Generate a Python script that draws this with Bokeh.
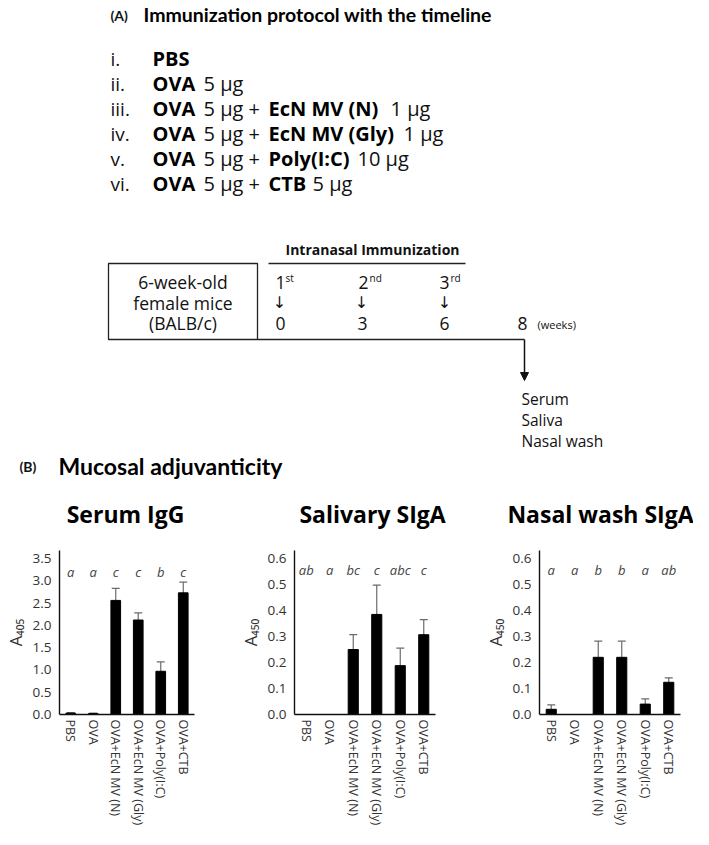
import math
from bokeh.plotting import figure
from bokeh.models import Range1d, FixedTicker, Whisker, TeeHead, ColumnDataSource, Arrow, NormalHead, NumeralTickFormatter
from bokeh.layouts import column, row
from bokeh.core.properties import value
from bokeh.embed import file_html
from bokeh.resources import INLINE

FONT = "Open Sans"
HEAD = "Lato"

# ---------------- data ----------------
groups = ["PBS", "OVA", "OVA+EcN MV (N)", "OVA+EcN MV (Gly)", "OVA+Poly(I:C)", "OVA+CTB"]

serum_igg = [0.03, 0.02, 2.56, 2.12, 0.97, 2.73]
serum_igg_err = [0.01, 0.01, 0.27, 0.16, 0.21, 0.24]
serum_letters = ["a", "a", "c", "c", "b", "c"]

saliva_siga = [0.0, 0.0, 0.25, 0.385, 0.188, 0.307]
saliva_siga_err = [0.0, 0.0, 0.057, 0.113, 0.067, 0.058]
saliva_letters = ["ab", "a", "bc", "c", "abc", "c"]

nasal_siga = [0.02, 0.0, 0.22, 0.22, 0.04, 0.124]
nasal_siga_err = [0.017, 0.0, 0.062, 0.062, 0.02, 0.017]
nasal_letters = ["a", "a", "b", "b", "a", "ab"]

serum_ticks = [0.0, 0.5, 1.0, 1.5, 2.0, 2.5, 3.0, 3.5]
siga_ticks = [0.0, 0.1, 0.2, 0.3, 0.4, 0.5, 0.6]

protocol_numerals = ["i.", "ii.", "iii.", "iv.", "v.", "vi."]
weeks = ["0", "3", "6", "8"]
samples = ["Serum", "Saliva", "Nasal wash"]

# ---------------- panel A (annotation canvas in pixel coords) ----------------
TOP_H = 540
top = figure(width=693, height=TOP_H, x_range=Range1d(0, 693), y_range=Range1d(TOP_H, 0),
             output_backend="svg", toolbar_location=None, min_border=0,
             x_axis_location=None, y_axis_location=None)
top.grid.visible = False
top.outline_line_color = None


def txt(x, y, s, size, bold=False, align="left", color="#111111", italic=False, baseline="middle", font=FONT):
    style = "bold" if bold else "normal"
    if italic:
        style = "italic"
    top.text(x=[x], y=[y], text=[s], text_font=value(font), text_font_size=f"{size}px",
             text_font_style=style, text_align=align, text_baseline=baseline, text_color=color)


# title A
txt(110, 15, "(A)", 14, bold=True, font=HEAD)
txt(143, 14, "Immunization protocol with the timeline", 19.5, bold=True, font=HEAD, color="#000000")

row_y = [58, 83, 108, 133, 158, 183]
for yy, num in zip(row_y, protocol_numerals):
    txt(110, yy, num, 19)
txt(152, row_y[0], "PBS", 20, bold=True, color="#000000")
for yy in row_y[1:]:
    txt(152, yy, "OVA", 20, bold=True, color="#000000")
txt(203, row_y[1], "5 µg", 20)
for yy in row_y[2:]:
    txt(203, yy, "5 µg +", 20)
txt(268, row_y[2], "EcN MV (N)", 20, bold=True, color="#000000")
txt(390, row_y[2], "1 µg", 20)
txt(268, row_y[3], "EcN MV (Gly)", 20, bold=True, color="#000000")
txt(403, row_y[3], "1 µg", 20)
txt(268, row_y[4], "Poly(I:C)", 20, bold=True, color="#000000")
txt(357, row_y[4], "10 µg", 20)
txt(268, row_y[5], "CTB", 20, bold=True, color="#000000")
txt(312, row_y[5], "5 µg", 20)

# timeline
BOX_T, BOX_B = 263, 339
txt(372, 249, "Intranasal Immunization", 14, bold=True, align="center")
top.segment(x0=[268], y0=[BOX_T], x1=[465], y1=[BOX_T], line_color="#222222", line_width=1.3)
top.quad(left=[108], right=[257], top=[BOX_T], bottom=[BOX_B], fill_color=None,
         line_color="#222222", line_width=1.3)
top.segment(x0=[257], y0=[BOX_B], x1=[524], y1=[BOX_B], line_color="#222222", line_width=1.3)
top.add_layout(Arrow(end=NormalHead(size=8, fill_color="#111111", line_color="#111111"),
                     x_start=524, y_start=BOX_B, x_end=524, y_end=380,
                     line_color="#111111", line_width=1.5))
for yy, s in zip([281, 302, 322], ["6-week-old", "female mice", "(BALB/c)"]):
    txt(182.5, yy, s, 17.5, align="center")

# 1st 2nd 3rd
for x0, n, sup in zip([275, 358, 439], ["1", "2", "3"], ["st", "nd", "rd"]):
    txt(x0, 282, n, 17.5)
    txt(x0 + (10 if n == "1" else 11), 277, sup, 10)
for xx in [279, 361, 444]:
    txt(xx, 302, "↓", 16, align="center", font="DejaVu Sans")
for xx, w in zip([280, 362, 444, 522], weeks):
    txt(xx, 323, w, 17.5, align="center")
txt(537, 324, "(weeks)", 11)

for yy, s in zip([398, 419, 440], samples):
    txt(521, yy, s, 15.5)

# title B
txt(19, 466, "(B)", 14, bold=True, font=HEAD)
txt(58, 465, "Mucosal adjuvanticity", 23, bold=True, font=HEAD, color="#000000")

# chart titles
for xx, s in zip([125, 372, 600], ["Serum IgG", "Salivary SIgA", "Nasal wash SIgA"]):
    txt(xx, 513, s, 23, bold=True, align="center", color="#000000")


# ---------------- panel B bar charts ----------------
def bar_chart(vals, errs, letters, ticks, ymax, letter_y, ylabel, width, bl, br):
    p = figure(x_range=groups, y_range=Range1d(0, ymax), width=width, height=829 - TOP_H,
               min_border_left=bl, min_border_right=br, min_border_top=550 - TOP_H,
               min_border_bottom=115, output_backend="svg", toolbar_location=None)
    p.grid.visible = False
    p.outline_line_color = None
    p.vbar(x=groups, top=vals, width=0.43, fill_color="black", line_color="black")
    idx = [i for i, e in enumerate(errs) if e > 0]
    src = ColumnDataSource(dict(x=[groups[i] for i in idx],
                                up=[vals[i] + errs[i] for i in idx],
                                lo=[vals[i] - errs[i] for i in idx]))
    p.add_layout(Whisker(source=src, base="x", upper="up", lower="lo", line_color="#6b6b6b",
                         line_width=1.2,
                         upper_head=TeeHead(size=8, line_color="#6b6b6b", line_width=1.2),
                         lower_head=TeeHead(size=8, line_color="#6b6b6b", line_width=1.2)))
    p.text(x=groups, y=[letter_y] * len(groups), text=letters, text_font=value(FONT),
           text_font_size="13px", text_font_style="italic", text_align="center",
           text_baseline="middle", text_color="#444444")
    p.yaxis.ticker = FixedTicker(ticks=ticks)
    p.yaxis.formatter = NumeralTickFormatter(format="0.0")
    for ax in (p.xaxis, p.yaxis):
        ax.axis_line_color = "#111111"
        ax.axis_line_width = 1.4
        ax.major_tick_line_color = None
        ax.minor_tick_line_color = None
        ax.major_tick_out = 0
        ax.major_label_text_font = FONT
        ax.major_label_text_font_size = "13.5px"
        ax.major_label_text_color = "#333333"
    p.xaxis.major_label_text_font_size = "12.5px"
    p.yaxis.major_label_standoff = 8
    p.xaxis.major_label_standoff = 5
    p.xaxis.major_label_orientation = -math.pi / 2
    p.yaxis.axis_label = ylabel
    p.yaxis.axis_label_text_font = FONT
    p.yaxis.axis_label_text_font_style = "normal"
    p.yaxis.axis_label_text_font_size = "16.5px"
    p.yaxis.axis_label_text_color = "#333333"
    p.yaxis.axis_label_standoff = 3
    return p


f1 = bar_chart(serum_igg, serum_igg_err, serum_letters, serum_ticks, 3.68, 3.2, "A₄₀₅", 230, 53, 36)
f2 = bar_chart(saliva_siga, saliva_siga_err, saliva_letters, siga_ticks, 0.631, 0.555, "A₄₅₀", 240, 64, 35)
f3 = bar_chart(nasal_siga, nasal_siga_err, nasal_letters, siga_ticks, 0.631, 0.555, "A₄₅₀", 223, 69, 13)

layout = column(top, row(f1, f2, f3))
open("out.html", "w").write(file_html(layout, INLINE))
